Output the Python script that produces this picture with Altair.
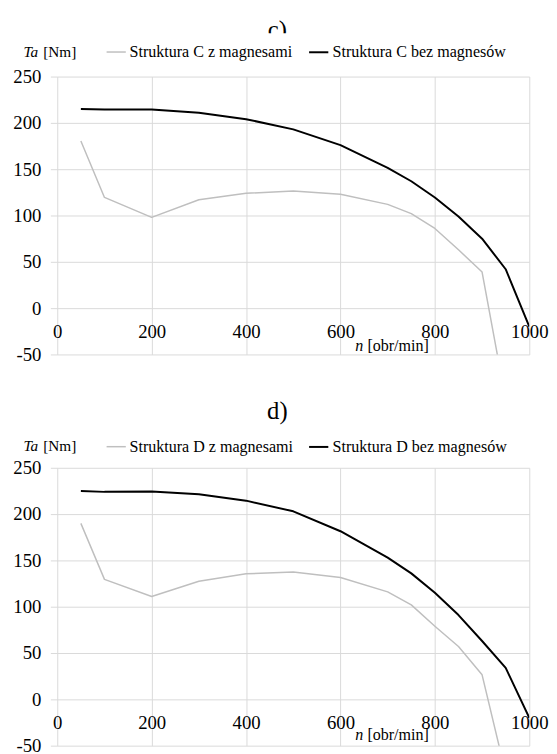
import altair as alt
import pandas as pd

# ---- data ----
rpm_bez = [50, 100, 200, 300, 400, 500, 600, 700, 750, 800, 850, 900, 950, 1000]
rpm_z = [50, 100, 200, 300, 400, 500, 600, 700, 750, 800, 850, 900, 950]

c_z = [180.5, 119.5, 98, 117, 124, 126.5, 123, 112, 102, 86, 63, 39, -99]
c_bez = [215, 214.5, 214.5, 211, 204, 193, 176, 151.5, 137, 119.5, 99, 75, 42, -20]

d_z = [190, 129.5, 111, 127.5, 135.5, 137.5, 131.5, 116, 102, 79, 57, 26.5, -80]
d_bez = [225, 224, 224.5, 221.5, 214.5, 203, 181.5, 153, 136, 115, 91, 63, 34, -20]

x_ticks = [0, 200, 400, 600, 800, 1000]
y_ticks = [-50, 0, 50, 100, 150, 200, 250]

FONT = "Liberation Serif"
W, H = 479, 282
GRID = "#d9d9d9"
GRAY = "#bfbfbf"


def txt(t, x, y, size, align="left", style="normal", baseline="middle"):
    one = pd.DataFrame({"k": [0]})
    return alt.Chart(one).mark_text(
        text=t, font=FONT, fontSize=size, fontStyle=style, align=align,
        baseline=baseline, color="black"
    ).encode(x=alt.value(x), y=alt.value(y))


def spacer(y):
    one = pd.DataFrame({"k": [0]})
    return alt.Chart(one).mark_rule(strokeOpacity=0, strokeWidth=1).encode(
        x=alt.value(0), x2=alt.value(10), y=alt.value(y)
    )


def panel(letter, z_vals, bez_vals, legend_y, ta_y, title_y, xtitle_y, spacers):
    name_z = f"Struktura {letter} z magnesami"
    name_b = f"Struktura {letter} bez magnesów"
    df = pd.DataFrame({
        "n": rpm_z + rpm_bez,
        "Ta": z_vals + bez_vals,
        "seria": [name_z] * len(rpm_z) + [name_b] * len(rpm_bez),
    })
    lines = alt.Chart(df).mark_line(clip=True, strokeJoin="round").encode(
        x=alt.X("n:Q", scale=alt.Scale(domain=[0, 1000], nice=False),
                axis=alt.Axis(values=x_ticks, title=None, grid=True, gridColor=GRID,
                              domain=False, ticks=False, tickSize=0,
                              labelFont=FONT, labelFontSize=19, labelColor="black",
                              labelPadding=24, labelBaseline="middle", offset=-47,
                              labelFlush=False, labelOverlap=False,
                              labelExpr="'' + datum.value")),
        y=alt.Y("Ta:Q", scale=alt.Scale(domain=[-50, 250], nice=False),
                axis=alt.Axis(values=y_ticks, title=None, grid=True, gridColor=GRID,
                              domain=False, ticks=True, tickSize=7, tickColor=GRID,
                              labelFont=FONT, labelFontSize=19, labelColor="black",
                              labelPadding=9.6, minExtent=49.3, maxExtent=49.3,
                              labelExpr="'' + datum.value")),
        color=alt.Color("seria:N",
                        scale=alt.Scale(domain=[name_z, name_b], range=[GRAY, "#000000"]),
                        legend=alt.Legend(title=None, orient="none", legendX=41.3,
                                          legendY=legend_y, direction="horizontal",
                                          symbolType="stroke", symbolSize=380,
                                          symbolStrokeWidth=2, labelFont=FONT,
                                          labelFontSize=16.3, labelColor="black",
                                          labelOffset=3, columnPadding=12, padding=8,
                                          fillColor="white", labelLimit=400)),
        strokeWidth=alt.StrokeWidth("seria:N",
                                    scale=alt.Scale(domain=[name_z, name_b], range=[1.5, 2.0]),
                                    legend=None),
    )
    layers = [
        txt(f"{letter.lower()})", 223.3, title_y, 25, align="center", baseline="alphabetic"),
        lines,
        txt("Ta", -34.3, ta_y, 15.5, style="italic"),
        txt("[Nm]", -14.3, ta_y, 15.5),
        txt("n", 302.5, xtitle_y, 16.3, style="italic"),
        txt("[obr/min]", 314.7, xtitle_y, 16.3),
    ] + [spacer(s) for s in spacers]
    return alt.layer(*layers).properties(width=W, height=H)


chart_c = panel("C", c_z, c_bez, legend_y=-44, ta_y=-24.5, title_y=-39,
                xtitle_y=273.5, spacers=[-62.7, 300])
chart_d = panel("D", d_z, d_bez, legend_y=-40.5, ta_y=-22.5, title_y=-49,
                xtitle_y=271, spacers=[-95])

chart = alt.vconcat(chart_c, chart_d, spacing=0).resolve_scale(
    color="independent", strokeWidth="independent"
).resolve_legend(color="independent").properties(padding=0).configure_view(
    stroke="transparent"
)

chart.save("out.html", embed_options={"renderer": "svg", "actions": False})
